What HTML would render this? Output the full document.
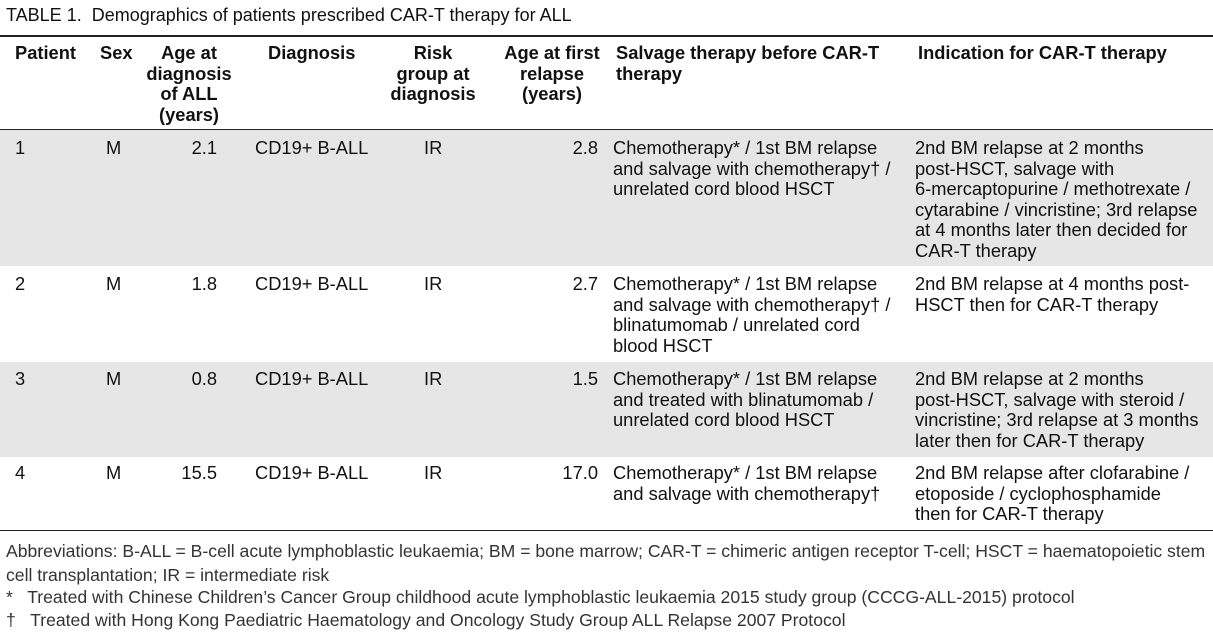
<!DOCTYPE html>
<html><head><meta charset="utf-8"><style>
body{margin:0;width:1213px;height:642px;background:#fff;position:relative;overflow:hidden;font-family:"Liberation Sans",Arial,sans-serif;color:#111}
.a{position:absolute;white-space:nowrap;font-size:18.3px;line-height:20.5px}
.h{font-weight:bold}
.c{text-align:center}
.r{text-align:right}
.bg{position:absolute;left:0;width:1213px;background:#e6e6e7}
.rule{position:absolute;left:0;width:1213px;background:#222}
.f{position:absolute;left:6px;font-size:17.6px;color:#333;white-space:nowrap}
</style></head><body>
<div class="f" style="top:5px;left:6px;font-size:18px;color:#111">TABLE 1.&nbsp; Demographics of patients prescribed CAR-T therapy for ALL</div>
<div class="rule" style="top:35px;height:2px"></div>
<div class="rule" style="top:129px;height:1px"></div>
<div class="bg" style="top:130px;height:136px"></div>
<div class="bg" style="top:362px;height:95px"></div>
<div class="rule" style="top:530px;height:1px"></div>

<div class="a h" style="left:15px;top:43px">Patient</div>
<div class="a h" style="left:100px;top:43px">Sex</div>
<div class="a h c" style="left:136px;width:106px;top:43px">Age at<br>diagnosis<br>of ALL<br>(years)</div>
<div class="a h" style="left:268px;top:43px">Diagnosis</div>
<div class="a h c" style="left:380px;width:106px;top:43px">Risk<br>group at<br>diagnosis</div>
<div class="a h c" style="left:494px;width:116px;top:43px">Age at first<br>relapse<br>(years)</div>
<div class="a h" style="left:616px;top:43px">Salvage therapy before CAR-T<br>therapy</div>
<div class="a h" style="left:918px;top:43px">Indication for CAR-T therapy</div>

<!-- row 1 -->
<div class="a" style="left:15px;top:138px">1</div>
<div class="a" style="left:106px;top:138px">M</div>
<div class="a r" style="left:140px;width:77px;top:138px">2.1</div>
<div class="a" style="left:255px;top:138px">CD19+ B-ALL</div>
<div class="a" style="left:424px;top:138px">IR</div>
<div class="a r" style="left:500px;width:98px;top:138px">2.8</div>
<div class="a" style="left:613px;top:138px">Chemotherapy* / 1st BM relapse<br>and salvage with chemotherapy† /<br>unrelated cord blood HSCT</div>
<div class="a" style="left:915px;top:138px">2nd BM relapse at 2 months<br>post-HSCT, salvage with<br>6-mercaptopurine / methotrexate /<br>cytarabine / vincristine; 3rd relapse<br>at 4 months later then decided for<br>CAR-T therapy</div>

<!-- row 2 -->
<div class="a" style="left:15px;top:274px">2</div>
<div class="a" style="left:106px;top:274px">M</div>
<div class="a r" style="left:140px;width:77px;top:274px">1.8</div>
<div class="a" style="left:255px;top:274px">CD19+ B-ALL</div>
<div class="a" style="left:424px;top:274px">IR</div>
<div class="a r" style="left:500px;width:98px;top:274px">2.7</div>
<div class="a" style="left:613px;top:274px">Chemotherapy* / 1st BM relapse<br>and salvage with chemotherapy† /<br>blinatumomab / unrelated cord<br>blood HSCT</div>
<div class="a" style="left:915px;top:274px">2nd BM relapse at 4 months post-<br>HSCT then for CAR-T therapy</div>

<!-- row 3 -->
<div class="a" style="left:15px;top:369px">3</div>
<div class="a" style="left:106px;top:369px">M</div>
<div class="a r" style="left:140px;width:77px;top:369px">0.8</div>
<div class="a" style="left:255px;top:369px">CD19+ B-ALL</div>
<div class="a" style="left:424px;top:369px">IR</div>
<div class="a r" style="left:500px;width:98px;top:369px">1.5</div>
<div class="a" style="left:613px;top:369px">Chemotherapy* / 1st BM relapse<br>and treated with blinatumomab /<br>unrelated cord blood HSCT</div>
<div class="a" style="left:915px;top:369px">2nd BM relapse at 2 months<br>post-HSCT, salvage with steroid /<br>vincristine; 3rd relapse at 3 months<br>later then for CAR-T therapy</div>

<!-- row 4 -->
<div class="a" style="left:15px;top:463px">4</div>
<div class="a" style="left:106px;top:463px">M</div>
<div class="a r" style="left:140px;width:77px;top:463px">15.5</div>
<div class="a" style="left:255px;top:463px">CD19+ B-ALL</div>
<div class="a" style="left:424px;top:463px">IR</div>
<div class="a r" style="left:500px;width:98px;top:463px">17.0</div>
<div class="a" style="left:613px;top:463px">Chemotherapy* / 1st BM relapse<br>and salvage with chemotherapy†</div>
<div class="a" style="left:915px;top:463px">2nd BM relapse after clofarabine /<br>etoposide / cyclophosphamide<br>then for CAR-T therapy</div>

<div class="f" style="top:539px;line-height:24px">Abbreviations: B-ALL = B-cell acute lymphoblastic leukaemia; BM = bone marrow; CAR-T = chimeric antigen receptor T-cell; HSCT = haematopoietic stem<br>cell transplantation; IR = intermediate risk</div>
<div class="f" style="top:587px">*&nbsp;&nbsp; Treated with Chinese Children’s Cancer Group childhood acute lymphoblastic leukaemia 2015 study group (CCCG-ALL-2015) protocol</div>
<div class="f" style="top:610px">†&nbsp;&nbsp; Treated with Hong Kong Paediatric Haematology and Oncology Study Group ALL Relapse 2007 Protocol</div>
</body></html>
